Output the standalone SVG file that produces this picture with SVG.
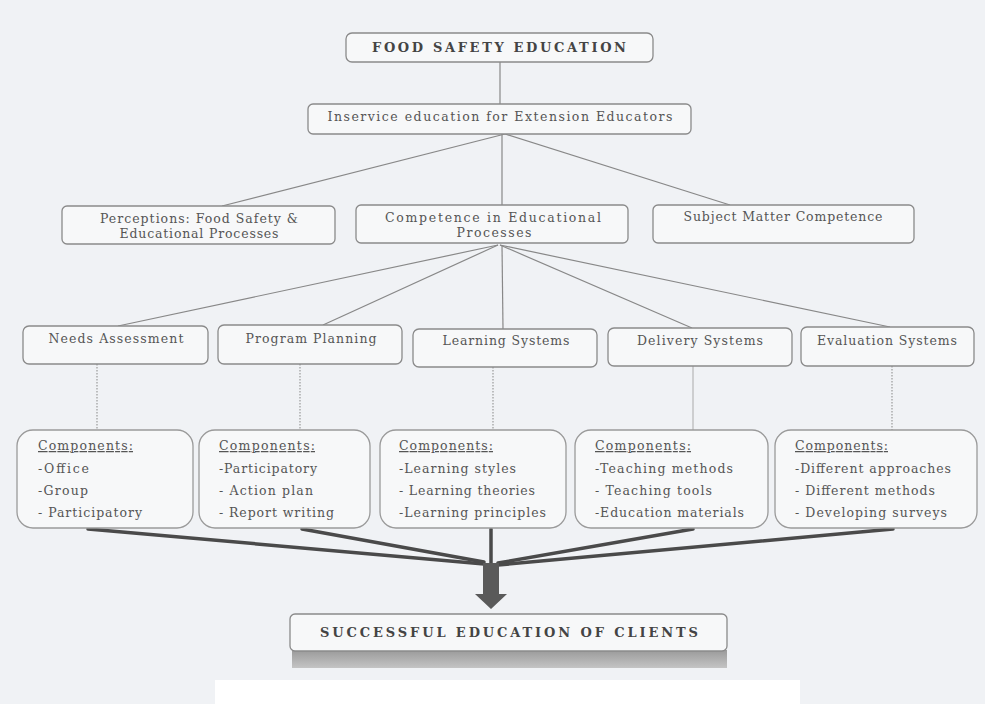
<svg xmlns="http://www.w3.org/2000/svg" width="985" height="704" viewBox="0 0 985 704">
<defs>
<linearGradient id="shadow" x1="0" y1="0" x2="0" y2="1">
<stop offset="0" stop-color="#9a9a9a"/>
<stop offset="1" stop-color="#c4c4c4"/>
</linearGradient>
<style>
.box{fill:#f7f8f9;stroke:#8a8a8a;stroke-width:1.3}
.cbox{fill:#f7f8f9;stroke:#9a9a9a;stroke-width:1.3}
.t{font-family:"DejaVu Serif","Liberation Serif",serif;font-size:12.5px;fill:#555}
.b{font-family:"DejaVu Serif","Liberation Serif",serif;font-size:13px;font-weight:bold;fill:#444}
.m{text-anchor:middle}
.u{text-decoration:underline}
.thin{stroke:#888;stroke-width:1.2;fill:none}
.dot{stroke:#999;stroke-width:1.2;stroke-dasharray:1.5 1.5;fill:none}
.thick{stroke:#4a4a4a;stroke-width:3.5;fill:none;stroke-linecap:round}
</style>
</defs>
<rect x="0" y="0" width="985" height="704" fill="#f0f2f5"/>
<rect x="215" y="680" width="585" height="24" fill="#ffffff"/>

<g id="connectors">
<line class="thin" x1="500" y1="62" x2="500" y2="105"/>
<line class="thin" x1="505" y1="134" x2="222" y2="206"/>
<line class="thin" x1="502" y1="134" x2="502" y2="205"/>
<line class="thin" x1="505" y1="134" x2="730" y2="205"/>
<line class="thin" x1="498" y1="245" x2="118" y2="326"/>
<line class="thin" x1="498" y1="245" x2="323" y2="325"/>
<line class="thin" x1="502" y1="245" x2="503" y2="329"/>
<line class="thin" x1="500" y1="245" x2="692" y2="328"/>
<line class="thin" x1="500" y1="245" x2="890" y2="327"/>
<line class="dot" x1="97" y1="364" x2="97" y2="430"/>
<line class="dot" x1="300" y1="364" x2="300" y2="430"/>
<line class="dot" x1="493" y1="367" x2="493" y2="430"/>
<line class="thin" x1="693" y1="366" x2="693" y2="430" style="stroke:#aaa;stroke-width:1"/>
<line class="dot" x1="892" y1="366" x2="892" y2="430"/>
<line class="thick" x1="88" y1="529" x2="484" y2="564"/>
<line class="thick" x1="302" y1="529" x2="484" y2="562"/>
<line class="thick" x1="491" y1="529" x2="491" y2="566"/>
<line class="thick" x1="693" y1="529" x2="498" y2="563"/>
<line class="thick" x1="893" y1="529" x2="498" y2="565"/>
<path d="M483 563 L499 563 L499 594 L507 594 L491 609 L475 594 L483 594 Z" fill="#5a5a5a"/>
</g>

<g id="food-safety-education">
<rect class="box" x="346" y="33" width="307" height="29" rx="6"/>
<text class="b m" x="499" y="52" textLength="254" lengthAdjust="spacing">FOOD SAFETY EDUCATION</text>
</g>

<g id="inservice">
<rect class="box" x="308" y="104" width="383" height="30" rx="5"/>
<text class="t m" x="500" y="121" textLength="345" lengthAdjust="spacing">Inservice education for Extension Educators</text>
</g>

<g id="perceptions">
<rect class="box" x="62" y="206" width="273" height="38" rx="5"/>
<text class="t m" x="199" y="223" textLength="198" lengthAdjust="spacing">Perceptions: Food Safety &amp;</text>
<text class="t m" x="199" y="238" textLength="159" lengthAdjust="spacing">Educational Processes</text>
</g>

<g id="competence">
<rect class="box" x="356" y="205" width="272" height="38" rx="5"/>
<text class="t m" x="493" y="222" textLength="216" lengthAdjust="spacing">Competence in Educational</text>
<text class="t m" x="494" y="237" textLength="75" lengthAdjust="spacing">Processes</text>
</g>

<g id="subject-matter">
<rect class="box" x="653" y="205" width="261" height="38" rx="5"/>
<text class="t m" x="783" y="221" textLength="199" lengthAdjust="spacing">Subject Matter Competence</text>
</g>

<g id="needs-assessment">
<rect class="box" x="23" y="326" width="185" height="38" rx="6"/>
<text class="t m" x="116" y="343" textLength="135" lengthAdjust="spacing">Needs Assessment</text>
</g>

<g id="program-planning">
<rect class="box" x="218" y="325" width="184" height="39" rx="6"/>
<text class="t m" x="311" y="343" textLength="131" lengthAdjust="spacing">Program Planning</text>
</g>

<g id="learning-systems">
<rect class="box" x="413" y="329" width="184" height="38" rx="6"/>
<text class="t m" x="506" y="345" textLength="127" lengthAdjust="spacing">Learning Systems</text>
</g>

<g id="delivery-systems">
<rect class="box" x="608" y="328" width="184" height="38" rx="6"/>
<text class="t m" x="700" y="345" textLength="126" lengthAdjust="spacing">Delivery Systems</text>
</g>

<g id="evaluation-systems">
<rect class="box" x="801" y="327" width="173" height="39" rx="6"/>
<text class="t m" x="887" y="345" textLength="140" lengthAdjust="spacing">Evaluation Systems</text>
</g>

<g id="components-needs">
<rect class="cbox" x="17" y="430" width="176" height="98" rx="16"/>
<text class="t u" x="38" y="450" textLength="95" lengthAdjust="spacing">Components:</text>
<text class="t" x="38" y="473" textLength="51" lengthAdjust="spacing">-Office</text>
<text class="t" x="38" y="495" textLength="50" lengthAdjust="spacing">-Group</text>
<text class="t" x="38" y="517" textLength="104" lengthAdjust="spacing">- Participatory</text>
</g>

<g id="components-program">
<rect class="cbox" x="199" y="430" width="171" height="98" rx="16"/>
<text class="t u" x="219" y="450" textLength="96" lengthAdjust="spacing">Components:</text>
<text class="t" x="219" y="473" textLength="98" lengthAdjust="spacing">-Participatory</text>
<text class="t" x="219" y="495" textLength="94" lengthAdjust="spacing">- Action plan</text>
<text class="t" x="219" y="517" textLength="115" lengthAdjust="spacing">- Report writing</text>
</g>

<g id="components-learning">
<rect class="cbox" x="380" y="430" width="186" height="98" rx="16"/>
<text class="t u" x="399" y="450" textLength="94" lengthAdjust="spacing">Components:</text>
<text class="t" x="399" y="473" textLength="117" lengthAdjust="spacing">-Learning styles</text>
<text class="t" x="399" y="495" textLength="136" lengthAdjust="spacing">- Learning theories</text>
<text class="t" x="399" y="517" textLength="147" lengthAdjust="spacing">-Learning principles</text>
</g>

<g id="components-delivery">
<rect class="cbox" x="575" y="430" width="193" height="98" rx="16"/>
<text class="t u" x="595" y="450" textLength="96" lengthAdjust="spacing">Components:</text>
<text class="t" x="595" y="473" textLength="138" lengthAdjust="spacing">-Teaching methods</text>
<text class="t" x="595" y="495" textLength="117" lengthAdjust="spacing">- Teaching tools</text>
<text class="t" x="595" y="517" textLength="149" lengthAdjust="spacing">-Education materials</text>
</g>

<g id="components-evaluation">
<rect class="cbox" x="775" y="430" width="202" height="98" rx="16"/>
<text class="t u" x="795" y="450" textLength="93" lengthAdjust="spacing">Components:</text>
<text class="t" x="795" y="473" textLength="156" lengthAdjust="spacing">-Different approaches</text>
<text class="t" x="795" y="495" textLength="140" lengthAdjust="spacing">- Different methods</text>
<text class="t" x="795" y="517" textLength="152" lengthAdjust="spacing">- Developing surveys</text>
</g>

<g id="successful-education">
<rect x="292" y="650" width="435" height="18" fill="url(#shadow)"/>
<rect class="box" x="290" y="614" width="437" height="37" rx="5"/>
<text class="b m" x="509" y="637" textLength="378" lengthAdjust="spacing">SUCCESSFUL EDUCATION OF CLIENTS</text>
</g>
</svg>
